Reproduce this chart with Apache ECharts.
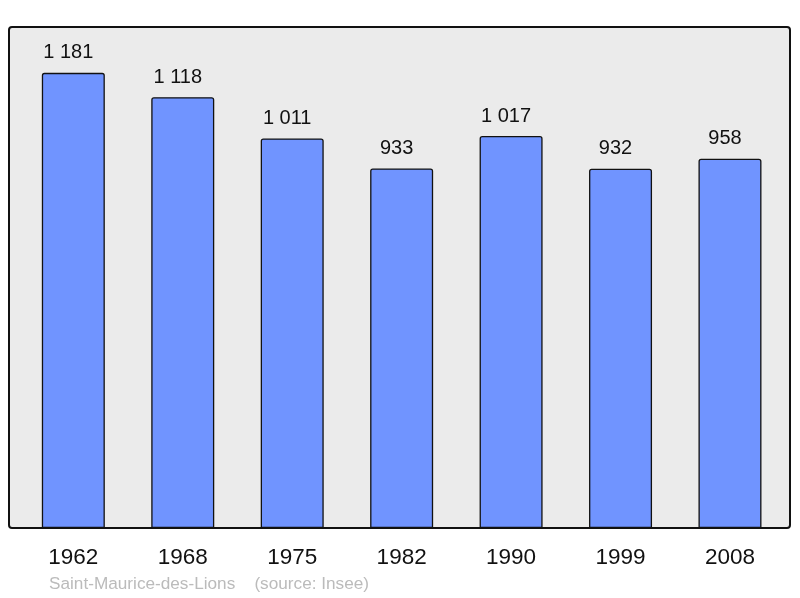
<!DOCTYPE html>
<html>
<head>
<meta charset="utf-8">
<script src="https://cdn.jsdelivr.net/npm/echarts@6/dist/echarts.min.js"></script>
<style>
  html, body { margin: 0; padding: 0; background: #fff; }
  #chart { width: 800px; height: 598px; }
</style>
</head>
<body>
<div id="chart"></div>
<script>
// Population by census year
const years = ['1962', '1968', '1975', '1982', '1990', '1999', '2008'];
const population = [1181, 1118, 1011, 933, 1017, 932, 958];
const footer = 'Saint-Maurice-des-Lions    (source: Insee)';

const font = '"Liberation Sans", Arial, sans-serif';

function fmtPop(v) {
  return String(v).replace(/\B(?=(\d{3})+(?!\d))/g, ' ');
}

const chart = echarts.init(document.getElementById('chart'));
chart.setOption({
  animation: false,
  textStyle: { fontFamily: font },
  graphic: [
    {
      type: 'rect',
      z: -10,
      shape: { x: 9, y: 27, width: 781, height: 501, r: 3 },
      style: { fill: '#ebebeb', stroke: '#111', lineWidth: 2 }
    },
    {
      type: 'text',
      left: 49,
      top: 576,
      style: { text: footer, fill: '#bbbbbb', font: '17.2px ' + font }
    }
  ],
  grid: { left: 18.6, right: 15.3, top: 27, bottom: 70 },
  xAxis: {
    type: 'category',
    data: years,
    axisLine: { show: false },
    axisTick: { show: false },
    axisLabel: { color: '#111', fontSize: 22.5, margin: 18 }
  },
  yAxis: {
    type: 'value',
    min: 0,
    max: 1300,
    show: false
  },
  series: [{
    type: 'bar',
    data: population,
    barWidth: 63,
    itemStyle: {
      color: '#7094ff',
      borderColor: '#111',
      borderWidth: 1.3,
      borderRadius: [2, 2, 0, 0]
    },
    label: {
      show: true,
      position: 'top',
      distance: 10,
      offset: [-5, 0],
      color: '#111',
      fontSize: 20,
      formatter: p => fmtPop(p.value)
    }
  }]
});
</script>
</body>
</html>
